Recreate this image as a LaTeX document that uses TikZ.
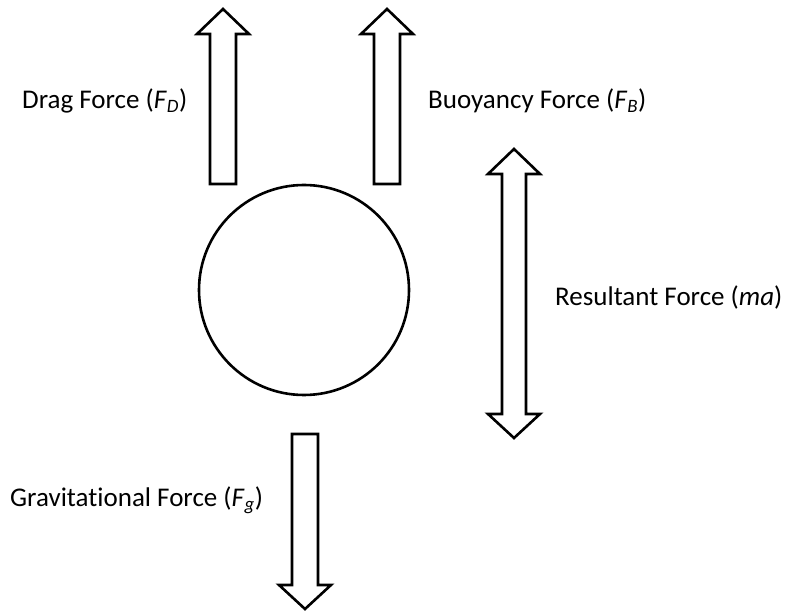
\documentclass[tikz,border=0pt]{standalone}
\usepackage{fontspec}
\setmainfont{Carlito}[Ligatures=NoCommon]
\begin{document}
\begin{tikzpicture}[x=1pt,y=-1pt,
  outl/.style={draw=black,line width=2.6pt,fill=white,line join=miter},
  lbl/.style={font=\fontsize{27}{31}\selectfont,inner sep=0pt,anchor=west}]
\useasboundingbox (0,0) rectangle (785,612);
% drag arrow
\draw[outl] (210,184) -- (210,34) -- (197,34) -- (223,9) -- (249,34) -- (236,34) -- (236,184) -- cycle;
% buoyancy arrow
\draw[outl] (374,184) -- (374,34) -- (361,34) -- (387,9) -- (413,34) -- (400,34) -- (400,184) -- cycle;
% body
\node[outl,circle,minimum size=210pt,inner sep=0pt] (body) at (304,290) {};
% resultant double arrow
\draw[outl] (502,174) -- (488,174) -- (514,149) -- (540,174) -- (526,174) -- (526,414) -- (540,414) -- (514,438) -- (488,414) -- (502,414) -- cycle;
% gravity arrow
\draw[outl] (292,434) -- (318,434) -- (318,585) -- (331,585) -- (305,609) -- (279,585) -- (292,585) -- cycle;
% labels
\node[lbl] (fd) at (22,101) {Drag Force (\textit{F}\textsubscript{\textit{D}})};
\node[lbl] (fb) at (428,101) {Buoyancy Force (\textit{F}\textsubscript{\textit{B}})};
\node[lbl] (ma) at (555,297) {Resultant Force (\textit{ma})};
\node[lbl] (fg) at (10,500) {Gravitational Force (\textit{F}\textsubscript{\textit{g}})};
\end{tikzpicture}
\end{document}
